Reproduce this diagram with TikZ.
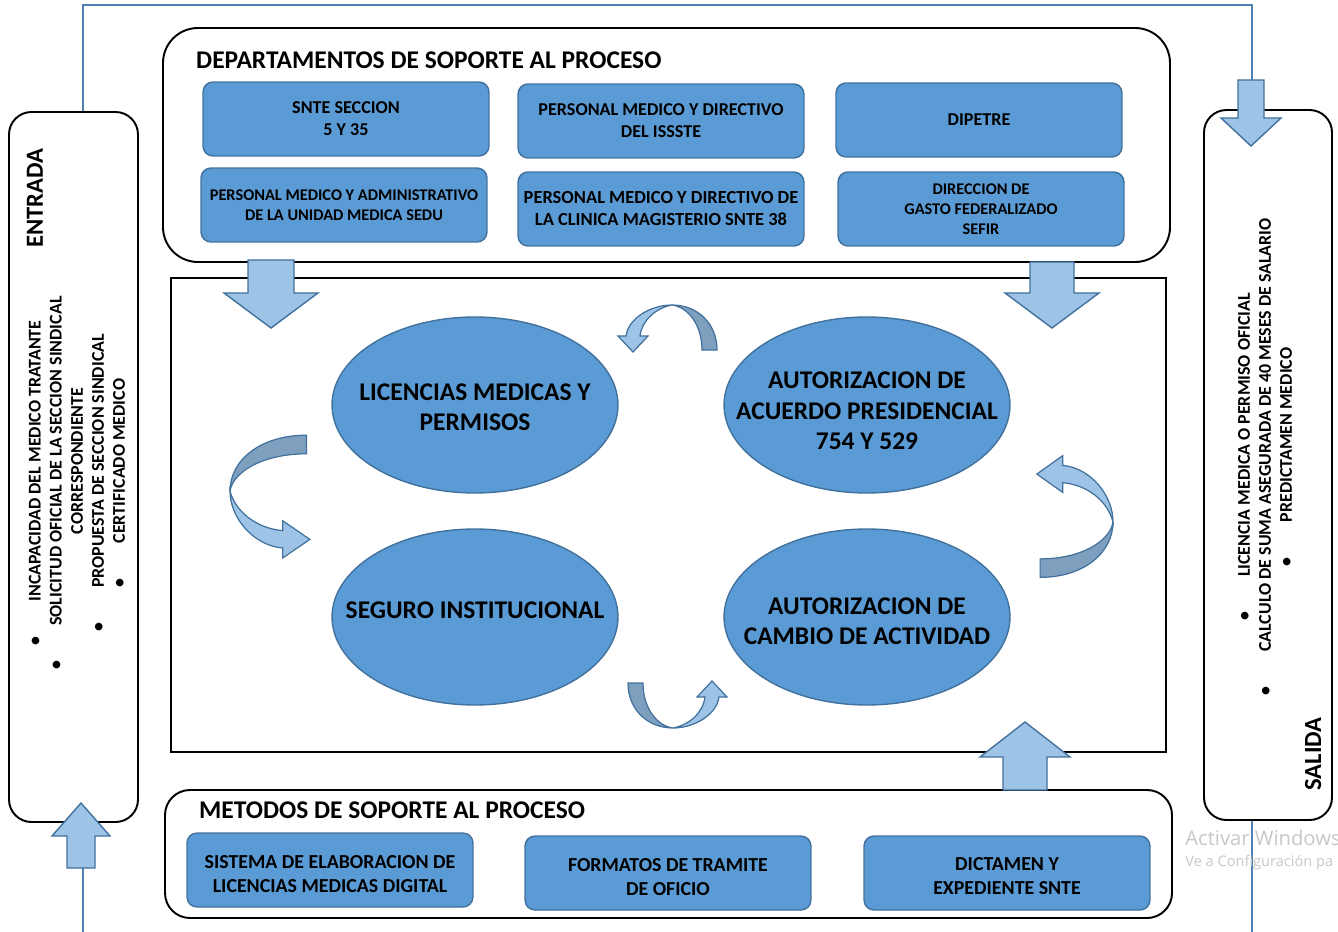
\documentclass[tikz,border=0pt]{standalone}
\usepackage{fontspec}
\setmainfont{Carlito}
\newfontfamily\winfont{Open Sans}
\usetikzlibrary{shapes.geometric}

\definecolor{boxfill}{HTML}{5B9BD5}
\definecolor{boxline}{HTML}{41719C}
\definecolor{arrowfill}{HTML}{9DC3E6}
\definecolor{banddark}{HTML}{7F9FBF}
\definecolor{feed}{HTML}{4F7FB5}

\newcommand{\titlefont}{\fontsize{14.5}{17}\selectfont\bfseries}
\newcommand{\ovalfont}{\fontsize{14.5}{17.3}\selectfont\bfseries}
\newcommand{\deptfont}{\fontsize{10.3}{12.5}\selectfont\bfseries}
\newcommand{\smallfont}{\fontsize{9.3}{11.3}\selectfont\bfseries}
\newcommand{\methfont}{\fontsize{11.3}{13.6}\selectfont\bfseries}
\newcommand{\listfont}{\fontsize{10.2}{12}\selectfont\bfseries}
\newcommand{\bul}{\leavevmode\llap{\textbullet\hspace{0.7cm}}}

\tikzstyle{panel} = [draw, line width=1.1pt, rounded corners=0.5cm]
\tikzstyle{dept} = [draw=boxline, fill=boxfill, line width=0.8pt, rounded corners=0.2cm, minimum width=5.72cm, minimum height=1.48cm, align=center, inner sep=1pt, font=\deptfont]
\tikzstyle{oval} = [ellipse, draw=boxline, fill=boxfill, line width=0.8pt, minimum width=5.72cm, minimum height=3.52cm, inner sep=0pt]
\tikzstyle{ovaltext} = [align=center, font=\ovalfont, inner sep=0pt]
\tikzstyle{block} = [draw=boxline, fill=arrowfill, line width=0.8pt]
\tikzstyle{ribbonlight} = [draw=boxline, fill=arrowfill, line width=0.7pt]
\tikzstyle{ribbondark} = [draw=boxline, fill=banddark, line width=0.7pt]
\tikzstyle{feedline} = [draw=feed, line width=0.9pt]

% block arrow: x, start y, head base y, tip y, half shaft, half head
\newcommand{\blockarrow}[6]{%
  \filldraw[block] (#1-#5,#2) -- (#1+#5,#2) -- (#1+#5,#3) -- (#1+#6,#3) -- (#1,#4) -- (#1-#6,#3) -- (#1-#5,#3) -- cycle;}

% curved ribbon arrow, tail on the left, head up on the right
\newcommand{\bentarrow}{%
  \filldraw[ribbondark] (-45,-45) -- (-30,-45) .. controls (-30,-20) and (-16,-2) .. (0,0)
     .. controls (-25,0) and (-45,-18) .. (-45,-45) -- cycle;
  \filldraw[ribbonlight] (0,0) .. controls (22,0) and (44,-14) .. (46,-31) -- (54,-31) -- (39,-47)
     -- (24,-31) -- (32,-31) .. controls (30,-15) and (16,-3) .. (0,0) -- cycle;}

\begin{document}
\begin{tikzpicture}[x=0.02cm, y=-0.02cm]
\useasboundingbox (0,0) rectangle (1338,932);
\clip (0,0) rectangle (1338,932);

% feedback line
\draw[feedline] (83,112) -- (83,5) -- (1252,5) -- (1252,80);
\draw[feedline] (83,868) -- (83,932);
\draw[feedline] (1252,820) -- (1252,932);

% panels
\draw[panel, rounded corners=0.45cm] (9,112) rectangle (138,822);
\draw[panel, rounded corners=0.45cm] (1204,110) rectangle (1332,820);
\draw[panel, rounded corners=0.7cm] (163,28) rectangle (1170,262);
\draw[panel] (165,790) rectangle (1172,918);
\draw[line width=1.1pt] (171,278) rectangle (1166,752);

\node[anchor=west, font=\titlefont] (deptitle) at (190,60) {DEPARTAMENTOS DE SOPORTE AL PROCESO};
\node[anchor=west, font=\titlefont] (methtitle) at (193,810) {METODOS DE SOPORTE AL PROCESO};

% departments
\node[dept] (snte) at (346,119) {SNTE SECCION\\5 Y 35};
\node[dept] (issste) at (661,121) {PERSONAL MEDICO Y DIRECTIVO\\DEL ISSSTE};
\node[dept] (dipetre) at (979,120) {DIPETRE};
\node[dept, font=\smallfont] (sedu) at (344,205) {PERSONAL MEDICO Y ADMINISTRATIVO\\DE LA UNIDAD MEDICA SEDU};
\node[dept, font=\fontsize{10.5}{12.5}\selectfont\bfseries] (clinica) at (661,209) {PERSONAL MEDICO Y DIRECTIVO DE\\LA CLINICA MAGISTERIO SNTE 38};
\node[dept, font=\smallfont] (sefir) at (981,209) {DIRECCION DE\\GASTO FEDERALIZADO\\SEFIR};

% methods
\node[dept, font=\methfont] (sistema) at (330,870) {};
\node[dept, font=\methfont] (formatos) at (668,873) {};
\node[dept, font=\methfont] (dictamen) at (1007,873) {};
\node[align=center, font=\methfont] (sistematxt) at (330,874) {SISTEMA DE ELABORACION DE\\LICENCIAS MEDICAS DIGITAL};
\node[align=center, font=\methfont] (formatostxt) at (668,877) {FORMATOS DE TRAMITE\\DE OFICIO};
\node[align=center, font=\methfont] (dictamentxt) at (1007,876) {DICTAMEN Y\\EXPEDIENTE SNTE};

% process
\node[oval] (licencias) at (475,405) {};
\node[oval] (acuerdo) at (867,405) {};
\node[oval] (seguro) at (475,617) {};
\node[oval] (cambio) at (867,617) {};
\node[ovaltext] (licenciastxt) at (475,407) {LICENCIAS MEDICAS Y\\PERMISOS};
\node[ovaltext] (acuerdotxt) at (867,411) {AUTORIZACION DE\\ACUERDO PRESIDENCIAL\\754 Y 529};
\node[ovaltext] (segurotxt) at (475,610) {SEGURO INSTITUCIONAL};
\node[ovaltext] (cambiotxt) at (867,621) {AUTORIZACION DE\\CAMBIO DE ACTIVIDAD};

% curved arrows
\begin{scope}[shift={(672,305)}, rotate=180] \bentarrow \end{scope}
\begin{scope}[shift={(230,491)}, rotate=-90, xscale=1.24, yscale=1.7] \bentarrow \end{scope}
\begin{scope}[shift={(1113,522)}, rotate=90, xscale=1.23, yscale=1.62] \bentarrow \end{scope}
\begin{scope}[shift={(673,728)}] \bentarrow \end{scope}

% block arrows
\blockarrow{271}{260}{293}{328}{23}{47}
\blockarrow{1052}{262}{293}{328}{22}{47}
\blockarrow{1251}{80}{118}{146}{13}{30}
\blockarrow{1025}{790}{757}{722}{22}{45}
\blockarrow{81}{868}{836}{803}{14}{29}

% input and output
\node[rotate=90, font=\fontsize{14}{17}\selectfont\bfseries] (entrada) at (35,198) {ENTRADA};
\node[rotate=90, align=center, font=\listfont] (inlist) at (77,461)
  {\bul INCAPACIDAD DEL MEDICO TRATANTE\\\bul SOLICITUD OFICIAL DE LA SECCION SINDICAL\\CORRESPONDIENTE\\\bul PROPUESTA DE SECCION SINDICAL\\\bul CERTIFICADO MEDICO};
\node[rotate=90, font=\fontsize{14}{17}\selectfont\bfseries] (salida) at (1313,754) {SALIDA};
\node[rotate=90, align=center, font=\listfont] (outlist) at (1265,435)
  {\bul LICENCIA MEDICA O PERMISO OFICIAL\\\bul CALCULO DE SUMA ASEGURADA DE 40 MESES DE SALARIO\\\bul PREDICTAMEN MEDICO};

% screen watermark
\node[anchor=base west, inner sep=0pt, text=black!22, font=\winfont\fontsize{11.5}{13}\selectfont] (wmone) at (1185,845) {Activar Windows};
\node[anchor=base west, inner sep=0pt, text=black!22, font=\winfont\fontsize{8.3}{10}\selectfont] (wmtwo) at (1185,866) {Ve a Configuración pa};
\end{tikzpicture}
\end{document}
